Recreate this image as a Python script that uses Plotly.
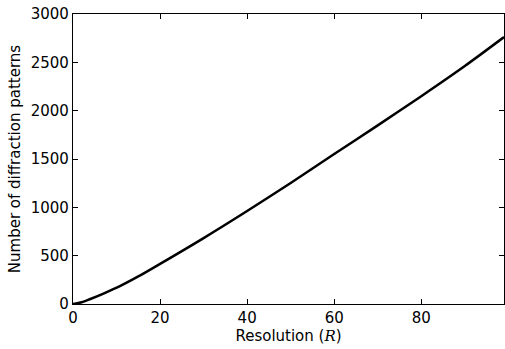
import plotly.graph_objects as go

resolution = [0, 2, 4, 7, 11, 15, 20, 30, 40, 50, 60, 70, 80, 90, 99]
n_patterns = [0, 18, 52, 108, 190, 285, 415, 682, 962, 1252, 1551, 1848, 2150, 2462, 2761]

x_ticks = [0, 20, 40, 60, 80]
y_ticks = [0, 500, 1000, 1500, 2000, 2500, 3000]

fig = go.Figure()
fig.add_trace(go.Scatter(x=resolution, y=n_patterns, mode="lines",
                         line=dict(color="black", width=2.5, shape="spline", smoothing=0.8),
                         showlegend=False, hoverinfo="skip"))

font = dict(family="DejaVu Sans", size=15, color="black")
axis_common = dict(showline=True, linecolor="black", linewidth=1.2, mirror="ticks",
                   ticks="inside", ticklen=5, tickwidth=1, tickcolor="black",
                   showgrid=False, zeroline=False, tickfont=font)

fig.update_xaxes(range=[0, 99], tickvals=x_ticks, ticktext=[str(v) for v in x_ticks],
                 title=dict(text="Resolution (<i><span style='font-family:DejaVu Serif'>R</span></i>)",
                            font=font, standoff=2), **axis_common)
fig.update_yaxes(range=[0, 3000], tickvals=y_ticks, ticktext=[str(v) for v in y_ticks],
                 title=dict(text="Number of diffraction patterns", font=font, standoff=6),
                 **axis_common)

fig.update_layout(width=505, height=349, margin=dict(l=73, r=1, t=14, b=45),
                  plot_bgcolor="white", paper_bgcolor="white", font=font)

fig.write_html("out.html", config={"displayModeBar": False},
               post_script="document.body.style.margin='0';document.body.style.overflow='hidden';")
